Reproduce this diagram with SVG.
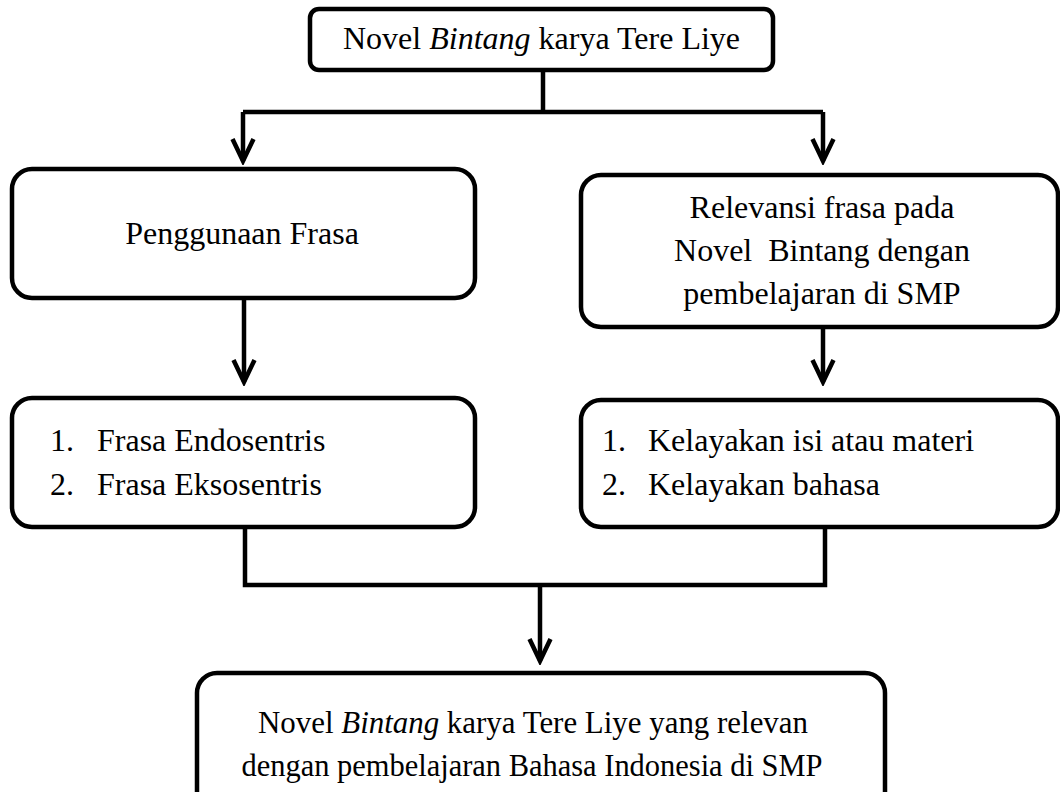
<svg xmlns="http://www.w3.org/2000/svg" width="1060" height="792" viewBox="0 0 1060 792">
<style>
  .box { fill: #ffffff; stroke: #000000; stroke-width: 4.5; }
  .t { font-family: "Liberation Serif", "Times New Roman", serif; font-size: 32px; fill: #000000; }
  .c { text-anchor: middle; }
  .conn { fill: none; stroke: #000000; stroke-width: 4.5; }
</style>
<defs>
  <marker id="arrow" markerUnits="userSpaceOnUse" viewBox="-26 -14 30 28" refX="0" refY="0" markerWidth="30" markerHeight="28" orient="auto">
    <path d="M -22 -10.5 L 0 0 L -22 10.5" fill="none" stroke="#000000" stroke-width="4.5" stroke-linejoin="miter"/>
  </marker>
</defs>
<rect width="1060" height="792" fill="#ffffff"/>
<g id="connectors">
  <path class="conn" d="M 543 70 L 543 112"/>
  <path class="conn" d="M 243 112 L 823 112"/>
  <path class="conn" d="M 243 112 L 243 161" marker-end="url(#arrow)"/>
  <path class="conn" d="M 823 112 L 823 161" marker-end="url(#arrow)"/>
  <path class="conn" d="M 244 298 L 244 382" marker-end="url(#arrow)"/>
  <path class="conn" d="M 823 327 L 823 382" marker-end="url(#arrow)"/>
  <path class="conn" d="M 245 527 L 245 585 L 825 585 L 825 527"/>
  <path class="conn" d="M 540 585 L 540 661" marker-end="url(#arrow)"/>
</g>
<g id="node-top">
  <rect class="box" x="310" y="9" width="463" height="61" rx="9"/>
  <text class="t c" x="541.5" y="49">Novel <tspan font-style="italic">Bintang</tspan> karya Tere Liye</text>
</g>
<g id="node-penggunaan">
  <rect class="box" x="12" y="169" width="463" height="129" rx="20"/>
  <text class="t c" x="242" y="244">Penggunaan Frasa</text>
</g>
<g id="node-relevansi">
  <rect class="box" x="581" y="175" width="477" height="152" rx="20"/>
  <text class="t c" x="822" y="218">Relevansi frasa pada</text>
  <text class="t c" x="822" y="261" style="white-space:pre">Novel  Bintang dengan</text>
  <text class="t c" x="822" y="304">pembelajaran di SMP</text>
</g>
<g id="node-frasa-list">
  <rect class="box" x="12" y="398" width="463" height="129" rx="20"/>
  <text class="t" x="50" y="451">1.</text>
  <text class="t" x="97" y="451">Frasa Endosentris</text>
  <text class="t" x="50" y="495">2.</text>
  <text class="t" x="97" y="495">Frasa Eksosentris</text>
</g>
<g id="node-kelayakan-list">
  <rect class="box" x="581" y="400" width="477" height="127" rx="20"/>
  <text class="t" x="602" y="451">1.</text>
  <text class="t" x="648" y="451">Kelayakan isi atau materi</text>
  <text class="t" x="602" y="495">2.</text>
  <text class="t" x="648" y="495">Kelayakan bahasa</text>
</g>
<g id="node-result">
  <rect class="box" x="197" y="673" width="688" height="140" rx="20"/>
  <text class="t c" x="533" y="733" textLength="550" lengthAdjust="spacingAndGlyphs">Novel <tspan font-style="italic">Bintang</tspan> karya Tere Liye yang relevan</text>
  <text class="t c" x="532" y="776" textLength="581" lengthAdjust="spacingAndGlyphs">dengan pembelajaran Bahasa Indonesia di SMP</text>
</g>
</svg>
